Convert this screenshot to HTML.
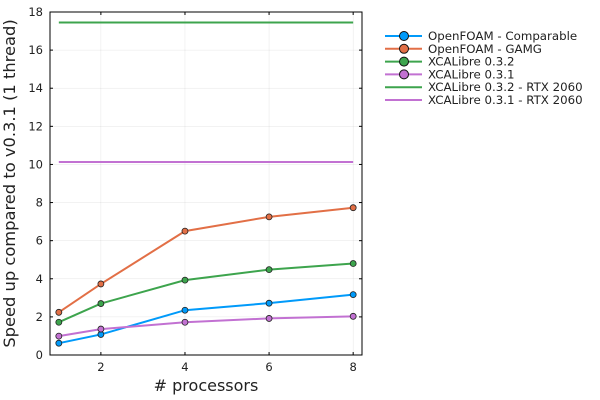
<!DOCTYPE html>
<html><head><meta charset="utf-8"><style>body{margin:0;background:#fff}svg{display:block;font-family:"DejaVu Sans","Liberation Sans",sans-serif}</style></head>
<body>
<svg id="chart" width="600" height="400" viewBox="0 0 600 400" xmlns="http://www.w3.org/2000/svg"></svg>
<script>
const procs = [1, 2, 4, 6, 8];
const openfoamComparable = [0.62, 1.08, 2.35, 2.72, 3.17];
const openfoamGamg = [2.24, 3.73, 6.5, 7.25, 7.73];
const xcal032 = [1.72, 2.7, 3.93, 4.48, 4.8];
const xcal031 = [0.99, 1.36, 1.72, 1.92, 2.03];
const rtx032 = 17.45;
const rtx031 = 10.13;
const xTicks = [2, 4, 6, 8];
const yTicks = [0, 2, 4, 6, 8, 10, 12, 14, 16, 18];

const NS = "http://www.w3.org/2000/svg";
const svg = document.getElementById('chart');
const L = 50, R = 362, T = 12, B = 355;
const xmin = 0.79, xmax = 8.21, ymin = 0, ymax = 18;
const sx = v => L + (v - xmin) / (xmax - xmin) * (R - L);
const sy = v => B - (v - ymin) / (ymax - ymin) * (B - T);
function mk(tag, attrs, parent) {
  const e = document.createElementNS(NS, tag);
  for (const k in attrs) e.setAttribute(k, attrs[k]);
  (parent || svg).appendChild(e);
  return e;
}
xTicks.forEach(t => {
  const g = mk('line', {x1: sx(t), x2: sx(t), y1: T, y2: B, stroke: '#000', 'stroke-opacity': 0.1, 'stroke-width': 0.5});
  
  
});
yTicks.forEach(t => {
  const g = mk('line', {x1: L, x2: R, y1: sy(t), y2: sy(t), stroke: '#000', 'stroke-opacity': 0.1, 'stroke-width': 0.5});
  
  
});
const fr = mk('rect', {x: L, y: T, width: R - L, height: B - T, fill: 'none', stroke: '#000', 'stroke-width': 1});


xTicks.forEach(t => {
  mk('line', {x1: sx(t), x2: sx(t), y1: B, y2: B - 3, stroke: '#000'});
  mk('line', {x1: sx(t), x2: sx(t), y1: T, y2: T + 3, stroke: '#000'});
  const tx = mk('text', {x: sx(t), y: B + 16, 'text-anchor': 'middle', 'font-size': 11.5, fill: '#222'});
  tx.textContent = t;
  
  
});
yTicks.forEach(t => {
  mk('line', {x1: L, x2: L + 3, y1: sy(t), y2: sy(t), stroke: '#000'});
  mk('line', {x1: R, x2: R - 3, y1: sy(t), y2: sy(t), stroke: '#000'});
  const tx = mk('text', {x: L - 7, y: sy(t) + 4, 'text-anchor': 'end', 'font-size': 11.5, fill: '#222'});
  tx.textContent = t;
  
  
});
const xt = mk('text', {x: (L + R) / 2, y: 391, 'text-anchor': 'middle', 'font-size': 16, fill: '#222'});
xt.textContent = '# processors';


const yt = mk('text', {x: 0, y: 0, 'text-anchor': 'middle', 'font-size': 16.3, fill: '#222', transform: `translate(15,${(T + B) / 2}) rotate(-90)`});
yt.textContent = 'Speed up compared to v0.3.1 (1 thread)';


[[rtx032, '#3DA44D', 'rtx2060-032-line'], [rtx031, '#C271D2', 'rtx2060-031-line']].forEach(([v, c, n]) => {
  const l = mk('line', {x1: sx(1), x2: sx(8), y1: sy(v), y2: sy(v), stroke: c, 'stroke-width': 2});
  
  
});
const series = [
  [openfoamComparable, '#009AFA', 'openfoam-comparable'],
  [openfoamGamg, '#E26F46', 'openfoam-gamg'],
  [xcal032, '#3DA44D', 'xcalibre-032'],
  [xcal031, '#C271D2', 'xcalibre-031'],
];
series.forEach(([vals, c, n]) => {
  const p = mk('polyline', {points: vals.map((v, i) => sx(procs[i]) + ',' + sy(v)).join(' '), fill: 'none', stroke: c, 'stroke-width': 2});
  
  
  vals.forEach((v, i) => {
    const m = mk('circle', {cx: sx(procs[i]), cy: sy(v), r: 3, fill: c, stroke: '#222', 'stroke-width': 0.8});
    
    
  });
});
const leg = [
  ['OpenFOAM - Comparable', '#009AFA', true],
  ['OpenFOAM - GAMG', '#E26F46', true],
  ['XCALibre 0.3.2', '#3DA44D', true],
  ['XCALibre 0.3.1', '#C271D2', true],
  ['XCALibre 0.3.2 - RTX 2060', '#3DA44D', false],
  ['XCALibre 0.3.1 - RTX 2060', '#C271D2', false],
];
const lg = mk('g', {});


leg.forEach(([label, c, marker], i) => {
  const y = 36 + i * 12.8;
  const g = mk('g', {}, lg);
  
  
  mk('line', {x1: 385, x2: 422, y1: y, y2: y, stroke: c, 'stroke-width': 2}, g);
  if (marker) mk('circle', {cx: 404, cy: y, r: 4.5, fill: c, stroke: '#111', 'stroke-width': 1}, g);
  const t = mk('text', {x: 428, y: y + 4, 'font-size': 11.8, fill: '#222'}, g);
  t.textContent = label;
});
</script>
</body></html>
